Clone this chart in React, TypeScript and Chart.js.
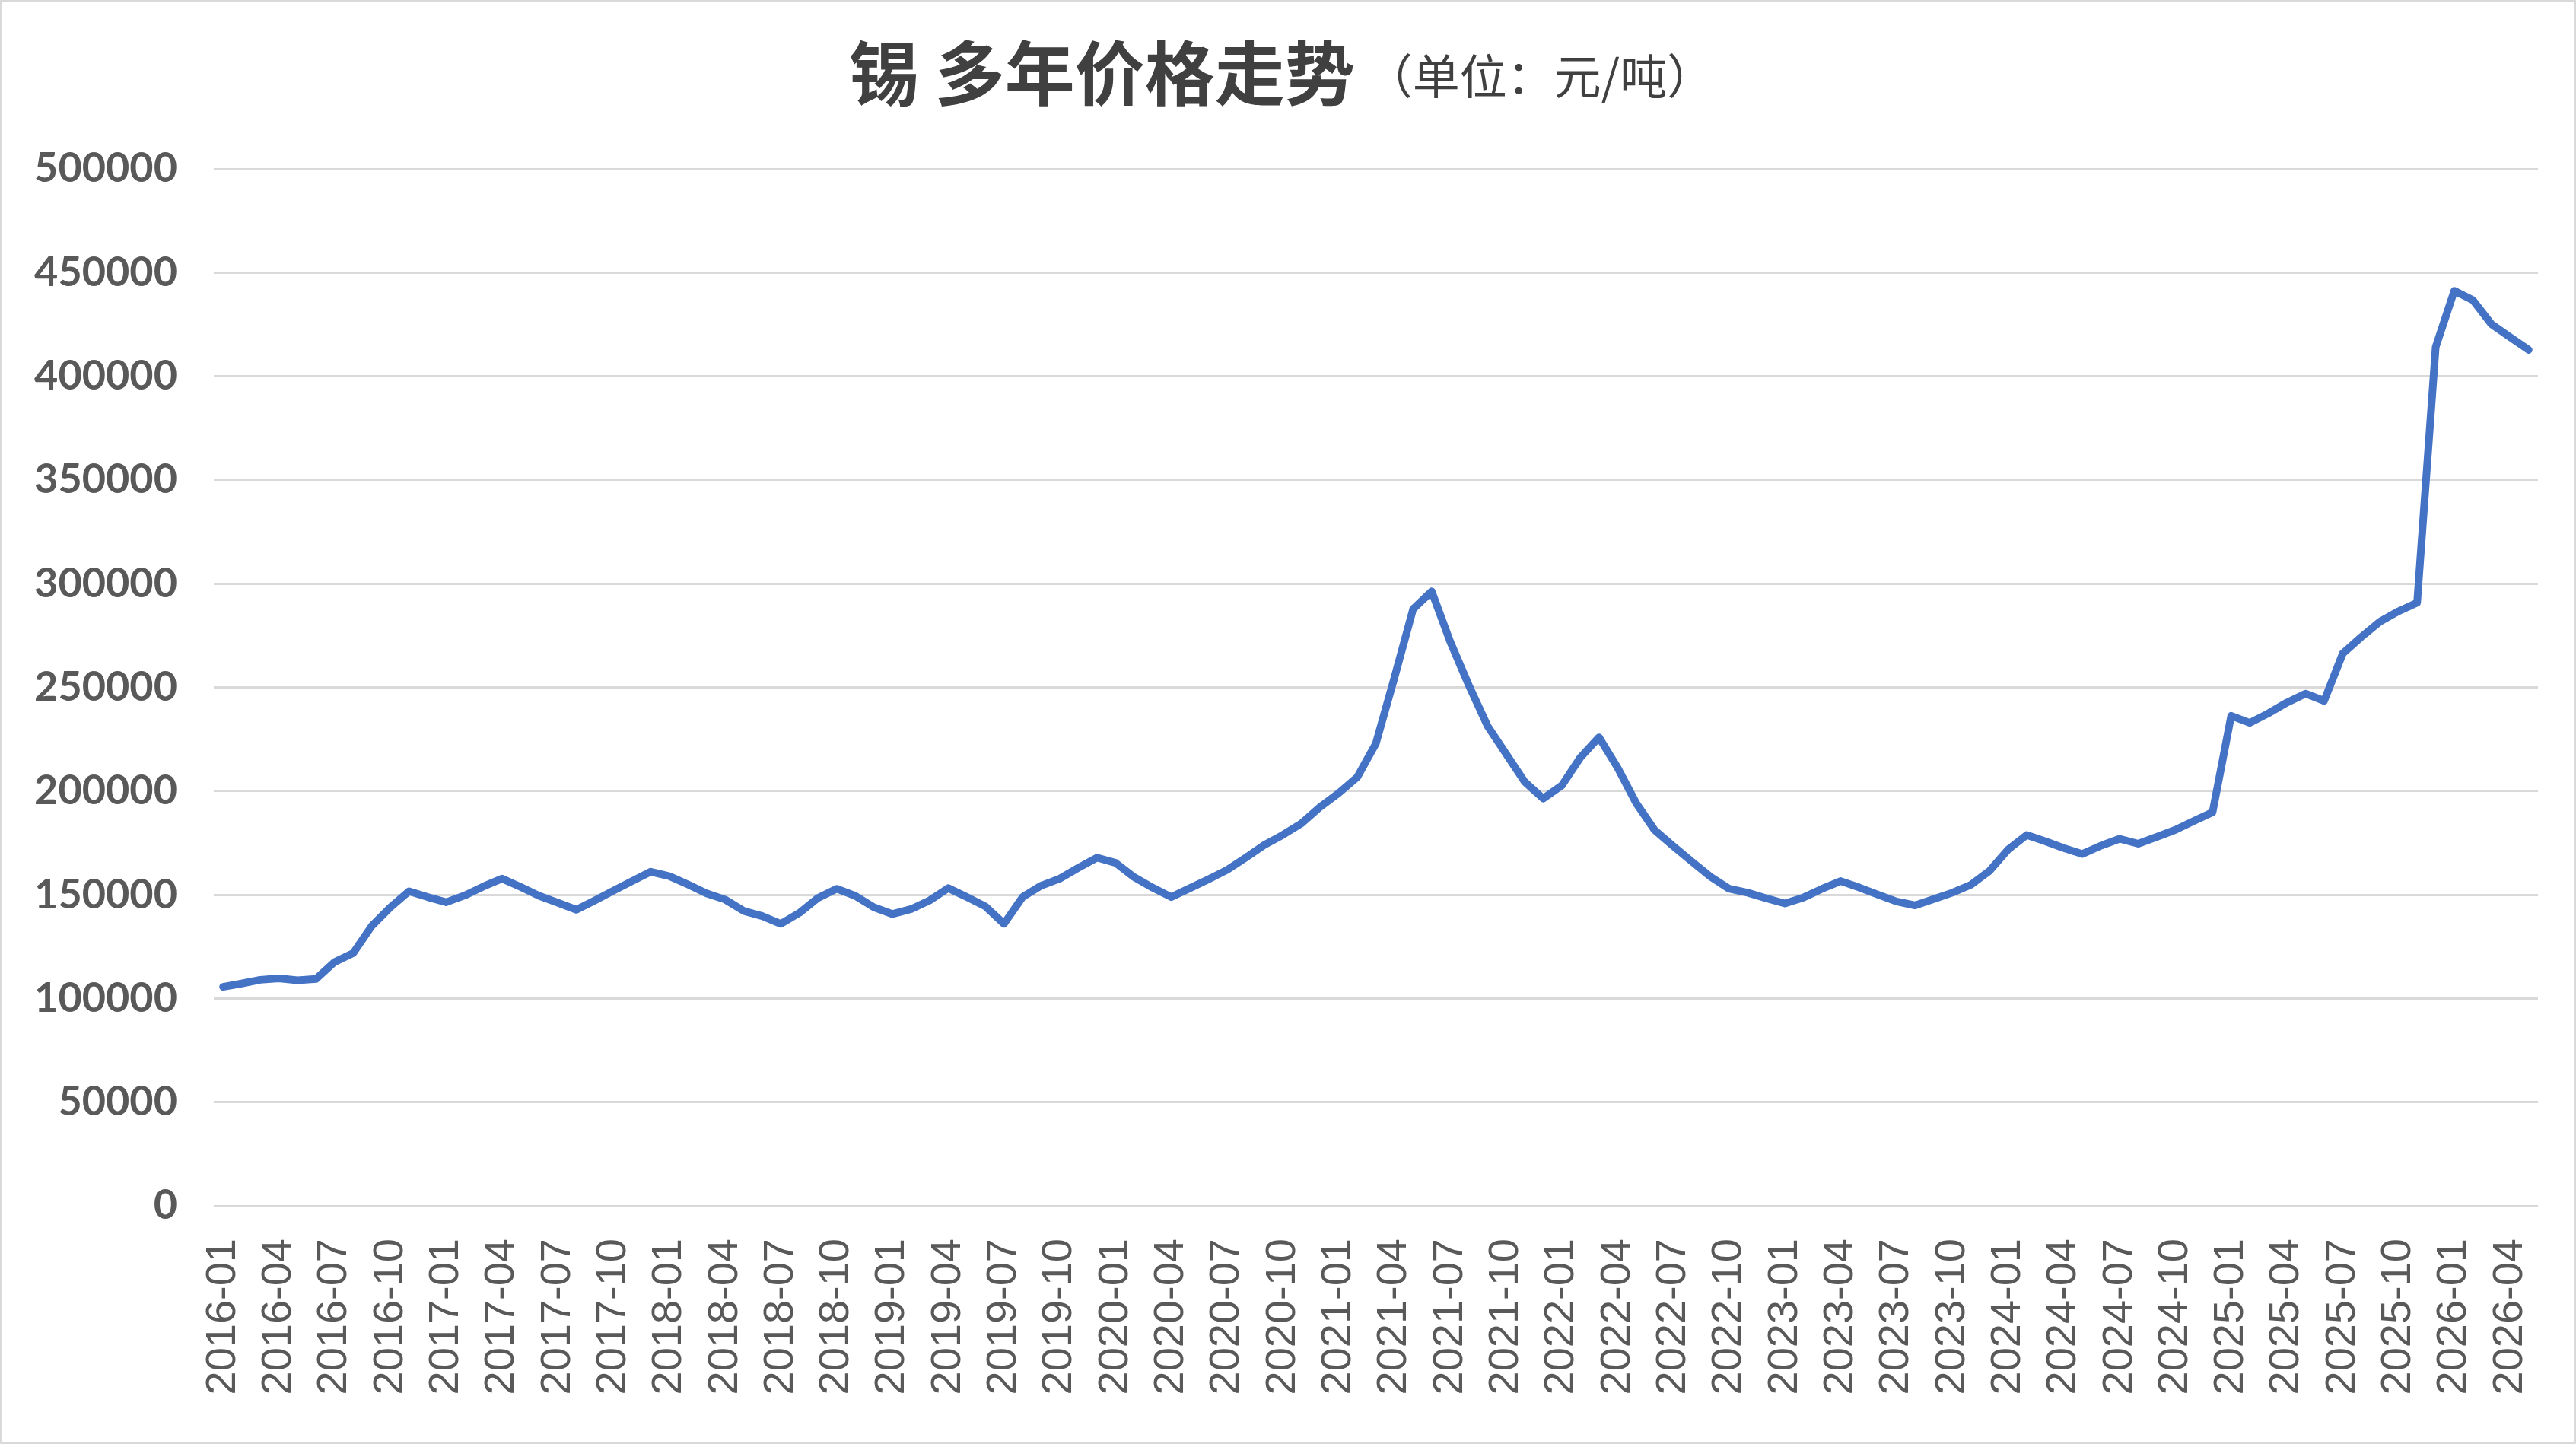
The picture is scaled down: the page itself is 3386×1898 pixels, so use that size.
import React, { useEffect, useRef } from "react";
import { Chart, registerables, type ChartConfiguration, type Plugin } from "chart.js";

Chart.register(...registerables);

// month categories 2016-01 .. 2026-05
const years = [2016, 2017, 2018, 2019, 2020, 2021, 2022, 2023, 2024, 2025, 2026];
const monthNums = ["01", "02", "03", "04", "05", "06", "07", "08", "09", "10", "11", "12"];
const lastMonth = "2026-05";
const months: string[] = [];
for (const y of years) {
  for (const m of monthNums) {
    const label = `${y}-${m}`;
    if (label > lastMonth) break;
    months.push(label);
  }
}

// only every third month gets a tick label
const shownTicks = months.filter((_, i) => i % 3 === 0);

// 元/吨
const prices = [
  // 2016
  105600, 107200, 109000, 109700, 108800, 109400, 117600, 121900, 135000, 144000, 151700, 148900,
  // 2017
  146400, 149700, 154000, 157800, 153800, 149500, 146200, 142800, 147300, 152000, 156600, 161100,
  // 2018
  159000, 155000, 150700, 147700, 142200, 139700, 136000, 141300, 148500, 152900, 149500, 144000,
  // 2019
  140700, 143100, 147300, 153200, 148900, 144400, 136000, 148900, 154400, 157800, 163000, 167900,
  // 2020
  165400, 158500, 153400, 148900, 153200, 157500, 162000, 167900, 174000, 178900, 184400, 192300,
  // 2021
  199000, 206700, 222900, 254700, 287700, 296300, 272000, 251000, 231500, 218000, 204500, 196400,
  // 2022
  202700, 216200, 225900, 211300, 194200, 181100, 173400, 166000, 158700, 152900, 151000, 148300,
  // 2023
  145800, 148700, 152900, 156600, 153500, 150100, 146800, 144900, 147900, 151000, 154800, 161500,
  // 2024
  171800, 178800, 175800, 172500, 169700, 173700, 177000, 174600, 177900, 181300, 185600, 189800,
  // 2025
  236300, 232900, 237500, 242700, 247000, 243500, 266300, 274300, 281700, 286700, 290800, 414100,
  // 2026
  441200, 436700, 425100, 418900, 412700,
];

const TITLE = "锡 多年价格走势";
const SUBTITLE = "（单位：元/吨）";

const frame: Plugin<"line"> = {
  id: "frame",
  beforeDraw(chart) {
    const { ctx, width, height } = chart;
    ctx.save();
    ctx.fillStyle = "#ffffff";
    ctx.fillRect(0, 0, width, height);
    ctx.restore();
  },
  afterDraw(chart) {
    const { ctx, width, height } = chart;
    ctx.save();
    // two-part title: bold name + lighter unit
    ctx.fillStyle = "#404040";
    ctx.textBaseline = "middle";
    ctx.textAlign = "left";
    ctx.font = 'bold 92px "Noto Sans CJK SC"';
    const w1 = ctx.measureText(TITLE).width;
    ctx.font = '62px "Noto Sans CJK SC"';
    const w2 = ctx.measureText(SUBTITLE).width;
    const gap = 14;
    const x0 = width * 0.4975 - (w1 + gap + w2) / 2;
    ctx.font = 'bold 92px "Noto Sans CJK SC"';
    ctx.fillText(TITLE, x0, 96);
    ctx.font = '62px "Noto Sans CJK SC"';
    ctx.fillText(SUBTITLE, x0 + w1 + gap, 100);

    // outer chart border
    ctx.strokeStyle = "#d9d9d9";
    ctx.lineWidth = 3;
    ctx.strokeRect(1.5, 1.5, width - 3, height - 3);
    ctx.restore();
  },
};

export default function App() {
  const canvasRef = useRef<HTMLCanvasElement | null>(null);

  useEffect(() => {
    if (!canvasRef.current) return;

    const config: ChartConfiguration<"line"> = {
      type: "line",
      data: {
        labels: months,
        datasets: [
          {
            label: "锡",
            data: prices,
            borderColor: "#4472c4",
            borderWidth: 10,
            borderJoinStyle: "round",
            borderCapStyle: "round",
            pointRadius: 0,
            tension: 0,
            fill: false,
          },
        ],
      },
      options: {
        responsive: true,
        maintainAspectRatio: false,
        animation: false,
        layout: { padding: { top: 222, right: 50, bottom: 0, left: 0 } },
        plugins: {
          legend: { display: false },
          title: { display: false },
          tooltip: { enabled: false },
        },
        scales: {
          x: {
            offset: true,
            afterFit: (scale) => {
              scale.height = 313;
              scale.paddingLeft = 0;
              scale.paddingRight = 0;
            },
            grid: { display: false, drawTicks: false },
            border: { display: false },
            ticks: {
              autoSkip: false,
              minRotation: 90,
              maxRotation: 90,
              padding: 43,
              color: "#595959",
              font: { family: '"Liberation Sans", Arial, sans-serif', size: 56 },
              callback: function (_value, index) {
                const label = months[index];
                return shownTicks.includes(label) ? label : "";
              },
            },
          },
          y: {
            min: 0,
            max: 500000,
            afterFit: (scale) => {
              scale.width = 281;
            },
            grid: { color: "#d9d9d9", lineWidth: 3, drawTicks: false },
            border: { display: false },
            ticks: {
              stepSize: 50000,
              padding: 48,
              color: "#595959",
              font: { family: "Lato, sans-serif", size: 54, weight: "bold" },
              callback: (v) => String(v),
            },
          },
        },
      },
      plugins: [frame],
    };

    const chart = new Chart(canvasRef.current, config);
    return () => {
      chart.destroy();
    };
  }, []);

  return (
    <div
      style={{
        position: "fixed",
        top: 0,
        left: 0,
        width: "100vw",
        height: "100vh",
        background: "#ffffff",
      }}
    >
      <canvas ref={canvasRef} aria-label="锡 多年价格走势" />
    </div>
  );
}
